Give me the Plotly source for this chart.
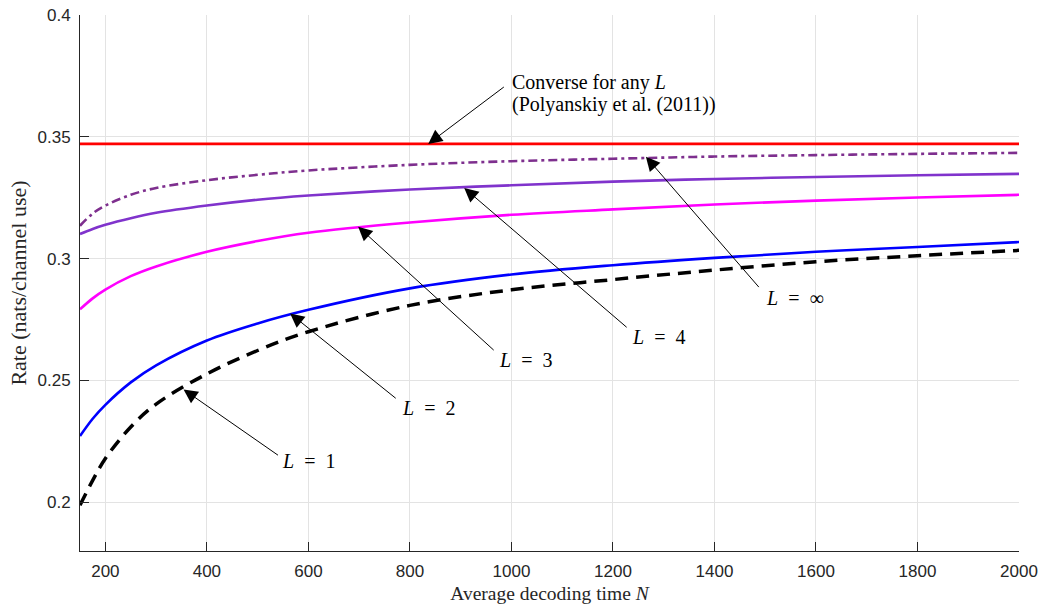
import plotly.graph_objects as go

# ---- data ----
N = [150, 175, 200, 250, 300, 400, 500, 600, 800, 1000, 1200, 1400, 1600, 1800, 2000]
rate_L1 = [0.1988, 0.2090, 0.2180, 0.2309, 0.2403, 0.2527, 0.2623, 0.2700, 0.2808, 0.2872, 0.2914, 0.2953, 0.2987, 0.3012, 0.3034]
rate_L2 = [0.2272, 0.2343, 0.2400, 0.2492, 0.2562, 0.2664, 0.2734, 0.2790, 0.2878, 0.2935, 0.2973, 0.3003, 0.3028, 0.3048, 0.3068]
rate_L3 = [0.2792, 0.2837, 0.2873, 0.2928, 0.2968, 0.3028, 0.3072, 0.3106, 0.3148, 0.3180, 0.3202, 0.3222, 0.3238, 0.3251, 0.3262]
rate_L4 = [0.3101, 0.3122, 0.3139, 0.3166, 0.3188, 0.3218, 0.3242, 0.3259, 0.3284, 0.3301, 0.3316, 0.3327, 0.3335, 0.3342, 0.3348]
rate_Linf = [0.3135, 0.3185, 0.3218, 0.3262, 0.3290, 0.3322, 0.3344, 0.3362, 0.3385, 0.3400, 0.3410, 0.3419, 0.3425, 0.3430, 0.3434]
N_conv = [150, 2000]
rate_conv = [0.3471, 0.3471]

x_ticks = [200, 400, 600, 800, 1000, 1200, 1400, 1600, 1800, 2000]
x_ticklabels = [str(v) for v in x_ticks]
y_ticks = [0.2, 0.25, 0.3, 0.35, 0.4]
y_ticklabels = ["0.2", "0.25", "0.3", "0.35", "0.4"]

# arrows: (tip N, tip rate, tail N, tail rate)
arrows = [
    (354, 0.2463, 543, 0.2189),
    (564, 0.2775, 775, 0.2422),
    (698, 0.3131, 968, 0.2619),
    (907, 0.3290, 1230, 0.2713),
    (1265, 0.3418, 1490, 0.2877),
    (836, 0.3471, 988, 0.3709),
]
# text labels: (text, N, rate)
texts = [
    ("<i>L</i>  =  1", 545, 0.2168),
    ("<i>L</i>  =  2", 780, 0.2385),
    ("<i>L</i>  =  3", 971, 0.2582),
    ("<i>L</i>  =  4", 1233, 0.2680),
    ("<i>L</i>  =  ∞", 1497, 0.2840),
    ("Converse for any <i>L</i>", 997, 0.3721),
    ("(Polyanskiy et al. (2011))", 997, 0.3634),
]

SERIF = "Liberation Serif"
SANS = "Liberation Sans"
AX = "#262626"

fig = go.Figure()
fig.add_trace(go.Scatter(x=N_conv, y=rate_conv, mode="lines",
                         line=dict(color="#ff0000", width=2.6)))
fig.add_trace(go.Scatter(x=N, y=rate_Linf, mode="lines",
                         line=dict(color="#7e2f8e", width=2.6, dash="9px,4px,3px,4px",
                                   shape="spline", smoothing=1)))
fig.add_trace(go.Scatter(x=N, y=rate_L4, mode="lines",
                         line=dict(color="#8033cc", width=2.6, shape="spline", smoothing=1)))
fig.add_trace(go.Scatter(x=N, y=rate_L3, mode="lines",
                         line=dict(color="#ff00ff", width=2.6, shape="spline", smoothing=1)))
fig.add_trace(go.Scatter(x=N, y=rate_L2, mode="lines",
                         line=dict(color="#0000ff", width=2.6, shape="spline", smoothing=1)))
fig.add_trace(go.Scatter(x=N, y=rate_L1, mode="lines",
                         line=dict(color="#000000", width=3.5, dash="13px,8px",
                                   shape="spline", smoothing=1)))

annotations = []
for tx, ty, axx, ayy in arrows:
    annotations.append(dict(x=tx, y=ty, ax=axx, ay=ayy, xref="x", yref="y",
                            axref="x", ayref="y", text="", showarrow=True,
                            arrowhead=2, arrowsize=2.8, arrowwidth=1, arrowcolor="#000000",
                            standoff=0, startstandoff=0))
for text, lx, ly in texts:
    annotations.append(dict(x=lx, y=ly, xref="x", yref="y", text=text, showarrow=False,
                            xanchor="left", yanchor="middle", align="left",
                            font=dict(family=SERIF, size=20, color="#000000")))

fig.update_layout(
    template="none",
    width=1041, height=604,
    margin=dict(l=80, r=22, t=15, b=53, pad=0),
    paper_bgcolor="white", plot_bgcolor="white",
    showlegend=False,
    annotations=annotations,
    xaxis=dict(range=[150, 2000], tickvals=x_ticks, ticktext=x_ticklabels, automargin=False,
               showgrid=True, gridcolor="#e3e3e3", gridwidth=1, zeroline=False,
               showline=True, linecolor=AX, linewidth=1, ticks="inside", ticklen=9,
               tickcolor=AX, tickfont=dict(family=SANS, size=17, color=AX),
               ticklabelstandoff=5,
               title=dict(text="Average decoding time <i>N</i>", standoff=9,
                          font=dict(family=SERIF, size=19.5, color=AX))),
    yaxis=dict(range=[0.18, 0.4], tickvals=y_ticks, ticktext=y_ticklabels, automargin=False,
               showgrid=True, gridcolor="#e3e3e3", gridwidth=1, zeroline=False,
               showline=True, linecolor=AX, linewidth=1, ticks="inside", ticklen=9,
               tickcolor=AX, tickfont=dict(family=SANS, size=17, color=AX),
               ticklabelstandoff=5,
               title=dict(text="Rate (nats/channel use)", standoff=4,
                          font=dict(family=SERIF, size=22, color=AX))),
)

fig.write_html("out.html")
